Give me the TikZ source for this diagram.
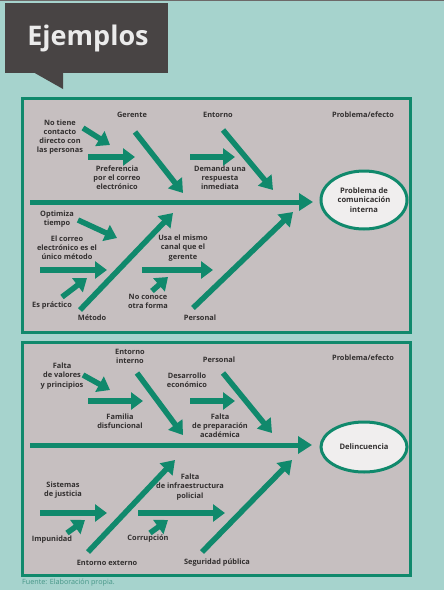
\documentclass[tikz,border=0pt]{standalone}
\usepackage{fontspec}
\setmainfont{Open Sans}
\usetikzlibrary{arrows.meta,shapes.geometric}
\definecolor{bgteal}{RGB}{166,211,205}
\definecolor{panelgray}{RGB}{198,191,192}
\definecolor{fishgreen}{RGB}{16,137,108}
\definecolor{titlegray}{RGB}{72,68,68}
\definecolor{txtgray}{RGB}{50,47,47}
\definecolor{effectfill}{RGB}{240,238,238}
\definecolor{notegreen}{RGB}{70,150,135}

\begin{document}
\begin{tikzpicture}[
  x=1pt, y=-1pt,
  panel/.style={draw=fishgreen, line width=3pt, fill=panelgray},
  lbl/.style={font=\fontsize{7.4}{9.2}\selectfont\bfseries, text=txtgray, align=center, inner sep=0pt},
  effect/.style={draw=fishgreen, line width=3pt, fill=effectfill, ellipse, minimum width=86pt, align=center,
    inner sep=1pt, font=\fontsize{7.6}{9.5}\selectfont\bfseries, text=txtgray},
  spine/.style={draw=fishgreen, line width=5pt, -{Triangle[length=14pt,width=17pt]}},
  bone/.style={draw=fishgreen, line width=5.5pt, -{Triangle[length=13pt,width=17pt]}},
  sub/.style={draw=fishgreen, line width=5.5pt, -{Triangle[length=12pt,width=17pt]}}
]
  \useasboundingbox (0,0) rectangle (444,590);
  \fill[bgteal] (0,0) rectangle (444,590);
  \draw[titlegray!80, line width=1pt] (0,0.5) -- (444,0.5);

  \fill[titlegray] (5,3) rectangle (168,73);
  \fill[titlegray] (33,72) -- (63,72) -- (63,89) -- cycle;
  \node[anchor=base, text=white!92!black, font=\fontsize{27}{30}\selectfont\bfseries] (title) at (88,45) {Ejemplos};

  % comunicación interna
  \draw[panel] (22,98) rectangle (410,332);
  \node[lbl] (gerente) at (132,115) {Gerente};
  \node[lbl] (entorno1) at (218,115) {Entorno};
  \node[lbl] (efecto1) at (363,115) {Problema/efecto};
  \node[lbl] (notiene) at (60,137) {No tiene\\contacto\\directo con\\las personas};
  \node[lbl] (prefer) at (117,178) {Preferencia\\por el correo\\electrónico};
  \node[lbl] (demanda) at (220,178) {Demanda una\\respuesta\\inmediata};
  \node[effect, minimum height=58pt] (comunic) at (364,200) {Problema de\\comunicación\\interna};
  \node[lbl] (optimiza) at (57,219) {Optimiza\\tiempo};
  \node[lbl] (correo) at (67,248) {El correo\\electrónico es el\\único método};
  \node[lbl] (practico) at (52,306) {Es práctico};
  \node[lbl] (usa) at (183,248) {Usa el mismo\\canal que el\\gerente};
  \node[lbl] (noconoce) at (148,301) {No conoce\\otra forma};
  \node[lbl] (metodo) at (92,318) {Método};
  \node[lbl] (personal1) at (200,318) {Personal};

  \coordinate (s1a) at (30,202);   \coordinate (s1b) at (313,202);
  \coordinate (g1a) at (135,132);  \coordinate (g1b) at (183,193);
  \coordinate (e1a) at (223,130);  \coordinate (e1b) at (273,190);
  \coordinate (m1a) at (80,310);   \coordinate (m1b) at (173,213);
  \coordinate (p1a) at (193,308);  \coordinate (p1b) at (293,212);
  \draw[spine] (s1a) -- (s1b);
  \draw[bone] (g1a) -- (g1b);
  \draw[bone] (e1a) -- (e1b);
  \draw[bone] (m1a) -- (m1b);
  \draw[bone] (p1a) -- (p1b);
  \draw[sub] (83,128) -- (110,145);
  \draw[sub] (88,157) -- (135,157);
  \draw[sub] (190,157) -- (235,157);
  \draw[sub] (78,220) -- (117,238);
  \draw[sub] (40,270) -- (107,270);
  \draw[sub] (62,297) -- (87,278);
  \draw[sub] (142,270) -- (213,270);
  \draw[sub] (152,291) -- (168,277);

  % delincuencia
  \draw[panel] (22,342) rectangle (410,575);
  \node[lbl] (efecto2) at (363,358) {Problema/efecto};
  \node[lbl] (entint) at (130,356) {Entorno\\interno};
  \node[lbl] (personal2) at (219,360) {Personal};
  \node[lbl] (valores) at (62,376) {Falta\\de valores\\y principios};
  \node[lbl] (familia) at (120,421) {Familia\\disfuncional};
  \node[lbl] (desarrollo) at (187,380) {Desarrollo\\económico};
  \node[lbl] (preparacion) at (220,426) {Falta\\de preparación\\académica};
  \node[effect, minimum height=50pt] (delinc) at (364,447) {Delincuencia};
  \node[lbl] (sistemas) at (63,490) {Sistemas\\de justicia};
  \node[lbl] (infra) at (190,487) {Falta\\de infraestructura\\policial};
  \node[lbl] (impunidad) at (52,540) {Impunidad};
  \node[lbl] (corrupcion) at (148,539) {Corrupción};
  \node[lbl] (entext) at (107,563) {Entorno externo};
  \node[lbl] (seguridad) at (217,563) {Seguridad pública};

  \coordinate (s2a) at (30,445);   \coordinate (s2b) at (312,445);
  \coordinate (i2a) at (137,373);  \coordinate (i2b) at (183,435);
  \coordinate (p2a) at (223,373);  \coordinate (p2b) at (272,433);
  \coordinate (x2a) at (88,552);   \coordinate (x2b) at (175,460);
  \coordinate (q2a) at (202,552);  \coordinate (q2b) at (292,460);
  \draw[spine] (s2a) -- (s2b);
  \draw[bone] (i2a) -- (i2b);
  \draw[bone] (p2a) -- (p2b);
  \draw[bone] (x2a) -- (x2b);
  \draw[bone] (q2a) -- (q2b);
  \draw[sub] (83,375) -- (110,390);
  \draw[sub] (88,401) -- (143,401);
  \draw[sub] (190,401) -- (235,401);
  \draw[sub] (40,513) -- (107,513);
  \draw[sub] (67,533) -- (85,520);
  \draw[sub] (138,513) -- (225,513);
  \draw[sub] (150,533) -- (168,520);

  \node[anchor=west, inner sep=0pt, text=notegreen, font=\fontsize{7.2}{8}\selectfont] (fuente) at (22,583) {Fuente: Elaboración propia.};
\end{tikzpicture}
\end{document}
